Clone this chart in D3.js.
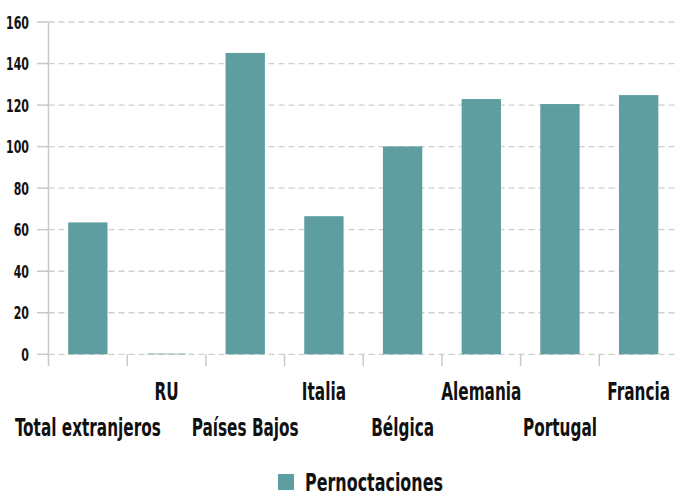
<!DOCTYPE html>
<html>
<head>
<meta charset="utf-8">
<script src="https://cdn.jsdelivr.net/npm/d3@7"></script>
<style>
  body { margin: 0; background: #fff; }
  text { font-family: "DejaVu Sans Condensed", "Liberation Sans Narrow", sans-serif; font-weight: bold; fill: #111; }
</style>
</head>
<body>
<svg id="chart" width="677" height="497"></svg>
<script>
var categories = ["Total extranjeros", "RU", "Países Bajos", "Italia", "Bélgica", "Alemania", "Portugal", "Francia"];
var pernoctaciones = [63.5, 0.3, 145.1, 66.5, 100.1, 122.9, 120.5, 124.8];
var yTicks = [0, 20, 40, 60, 80, 100, 120, 140, 160];
var seriesName = "Pernoctaciones";

var svg = d3.select("#chart");
var mLeft = 48.5, mRight = 678, mTop = 22, mBottom = 354.3;

var x = d3.scaleBand().domain(categories).range([mLeft, mRight]).paddingInner(0.5).paddingOuter(0.25);
var bands = d3.scaleBand().domain(categories).range([mLeft, mRight]);
var y = d3.scaleLinear().domain([0, 160]).range([mBottom, mTop]);

// the original face is a very narrow gothic; measure ours and squeeze it to the same width
var probe = svg.append("text").attr("font-size", 25).text(categories[0]);
var squeeze = 146 / probe.node().getComputedTextLength();
probe.text(seriesName);
var legSqueeze = 138 / probe.node().getComputedTextLength();
probe.remove();

// grid
svg.selectAll("line.grid")
   .data(yTicks)
   .enter()
   .append("line")
   .attr("class", "grid")
   .attr("x1", mLeft).attr("x2", 677)
   .attr("y1", function(d) { return y(d); })
   .attr("y2", function(d) { return y(d); })
   .attr("stroke", "#cfcfcf")
   .attr("stroke-width", 1.3)
   .attr("stroke-dasharray", "6,4");

// y ticks + labels
svg.selectAll("line.ytick")
   .data(yTicks)
   .enter()
   .append("line")
   .attr("x1", 37).attr("x2", mLeft)
   .attr("y1", function(d) { return y(d); })
   .attr("y2", function(d) { return y(d); })
   .attr("stroke", "#c8c8c8")
   .attr("stroke-width", 1.5);

svg.selectAll("text.ylab")
   .data(yTicks)
   .enter()
   .append("text")
   .attr("text-anchor", "end")
   .attr("font-size", 18)
   .attr("transform", function(d) { return "translate(29," + (y(d) + 6.5) + ") scale(" + squeeze + ",1)"; })
   .text(function(d) { return d; });

// y axis line
svg.append("line")
   .attr("x1", mLeft).attr("x2", mLeft)
   .attr("y1", mTop).attr("y2", 366)
   .attr("stroke", "#c8c8c8")
   .attr("stroke-width", 1.5);

// x ticks
svg.selectAll("line.xtick")
   .data(categories.slice(1))
   .enter()
   .append("line")
   .attr("x1", function(d) { return bands(d); })
   .attr("x2", function(d) { return bands(d); })
   .attr("y1", mBottom).attr("y2", 366)
   .attr("stroke", "#c8c8c8")
   .attr("stroke-width", 1.5);

// bars
svg.selectAll("rect.bar")
   .data(pernoctaciones)
   .enter()
   .append("rect")
   .attr("x", function(d, i) { return x(categories[i]); })
   .attr("width", x.bandwidth())
   .attr("y", function(d) { return y(d); })
   .attr("height", function(d) { return mBottom - y(d); })
   .attr("fill", "#5f9ea0");

// category labels, staggered on two rows
svg.selectAll("text.xlab")
   .data(categories)
   .enter()
   .append("text")
   .attr("text-anchor", "middle")
   .attr("font-size", 25)
   .attr("transform", function(d, i) {
       var cx = bands(d) + bands.bandwidth() / 2;
       var by = (i % 2 === 1) ? 400 : 436;
       return "translate(" + cx + "," + by + ") scale(" + squeeze + ",1)";
   })
   .text(function(d) { return d; });

// legend
svg.append("rect")
   .attr("x", 278).attr("y", 474)
   .attr("width", 16).attr("height", 16)
   .attr("fill", "#5f9ea0");
svg.append("text")
   .attr("font-size", 25)
   .attr("transform", "translate(305,491) scale(" + legSqueeze + ",1)")
   .text(seriesName);
</script>
</body>
</html>
